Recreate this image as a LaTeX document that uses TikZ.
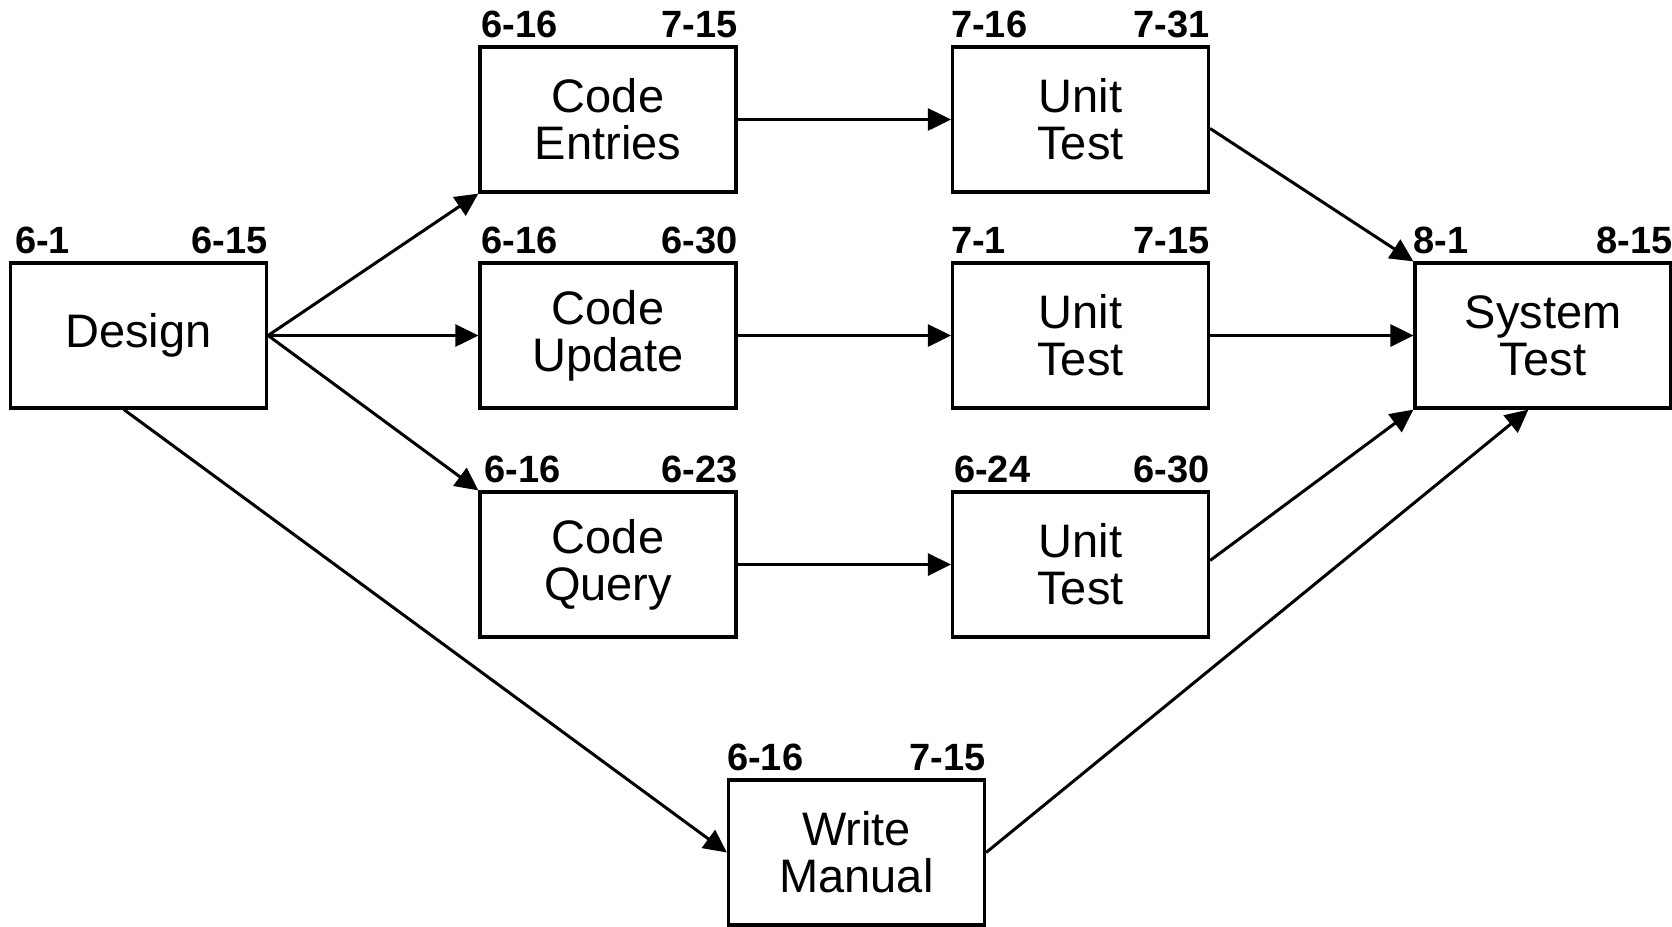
\documentclass[tikz,border=0pt]{standalone}
\usepackage{fontspec}
\setmainfont{Liberation Sans}
\usetikzlibrary{arrows.meta}
\begin{document}
\begin{tikzpicture}[x=1pt,y=-1pt,
  box/.style={draw, line width=3.2pt, inner sep=0pt, minimum width=256pt, minimum height=145pt,
    align=center, font=\fontsize{47}{47}\selectfont},
  lbl/.style={inner sep=0pt, font=\bfseries\fontsize{38}{38}\selectfont},
  conn/.style={line width=3pt, -{Triangle[length=23pt,width=22pt]}}]
\useasboundingbox (0,0) rectangle (1672,926);
% boxes
\node[box] (design) at (138.5,335.5) {Design};
\node[box] (ce) at (608,119.5) {Code\\Entries};
\node[box] (cu) at (608,335.5) {Code\\Update};
\node[box] (cq) at (608,564.5) {Code\\Query};
\node[box] (ut1) at (1080.5,119.5) {Unit\\Test};
\node[box] (ut2) at (1080.5,335.5) {Unit\\Test};
\node[box] (ut3) at (1080.5,564.5) {Unit\\Test};
\node[box] (st) at (1543,335.5) {System\\Test};
\node[box] (wm) at (856.5,852.5) {Write\\Manual};
% labels
\node[lbl, anchor=base west] (design-s) at ([xshift=6pt,yshift=8pt]design.north west) {6-1};
\node[lbl, anchor=base east] (design-e) at ([yshift=8pt]design.north east) {6-15};
\node[lbl, anchor=base west] (ce-s) at ([xshift=3pt,yshift=8pt]ce.north west) {6-16};
\node[lbl, anchor=base east] (ce-e) at ([yshift=8pt]ce.north east) {7-15};
\node[lbl, anchor=base west] (cu-s) at ([xshift=3pt,yshift=8pt]cu.north west) {6-16};
\node[lbl, anchor=base east] (cu-e) at ([yshift=8pt]cu.north east) {6-30};
\node[lbl, anchor=base west] (cq-s) at ([xshift=6pt,yshift=8pt]cq.north west) {6-16};
\node[lbl, anchor=base east] (cq-e) at ([yshift=8pt]cq.north east) {6-23};
\node[lbl, anchor=base west] (ut1-s) at ([xshift=0pt,yshift=8pt]ut1.north west) {7-16};
\node[lbl, anchor=base east] (ut1-e) at ([yshift=8pt]ut1.north east) {7-31};
\node[lbl, anchor=base west] (ut2-s) at ([xshift=0pt,yshift=8pt]ut2.north west) {7-1};
\node[lbl, anchor=base east] (ut2-e) at ([yshift=8pt]ut2.north east) {7-15};
\node[lbl, anchor=base west] (ut3-s) at ([xshift=3pt,yshift=8pt]ut3.north west) {6-24};
\node[lbl, anchor=base east] (ut3-e) at ([yshift=8pt]ut3.north east) {6-30};
\node[lbl, anchor=base west] (st-s) at ([xshift=0pt,yshift=8pt]st.north west) {8-1};
\node[lbl, anchor=base east] (st-e) at ([yshift=8pt]st.north east) {8-15};
\node[lbl, anchor=base west] (wm-s) at ([xshift=0pt,yshift=8pt]wm.north west) {6-16};
\node[lbl, anchor=base east] (wm-e) at ([yshift=8pt]wm.north east) {7-15};
% connector points
\coordinate (dsb) at ([xshift=115pt]design.south west);
\coordinate (ssb) at ([xshift=115pt]st.south west);
\coordinate (u1o) at ([yshift=-9pt]ut1.east);
\coordinate (u3o) at ([yshift=4pt]ut3.east);
% connectors
\draw[conn] (design.east) -- (ce.south west);
\draw[conn] (design.east) -- (cu.west);
\draw[conn] (design.east) -- (cq.north west);
\draw[conn] (dsb) -- (wm.west);
\draw[conn] (ce.east) -- (ut1.west);
\draw[conn] (cu.east) -- (ut2.west);
\draw[conn] (cq.east) -- (ut3.west);
\draw[conn] (u1o) -- (st.north west);
\draw[conn] (ut2.east) -- (st.west);
\draw[conn] (u3o) -- (st.south west);
\draw[conn] (wm.east) -- (ssb);
\end{tikzpicture}
\end{document}
